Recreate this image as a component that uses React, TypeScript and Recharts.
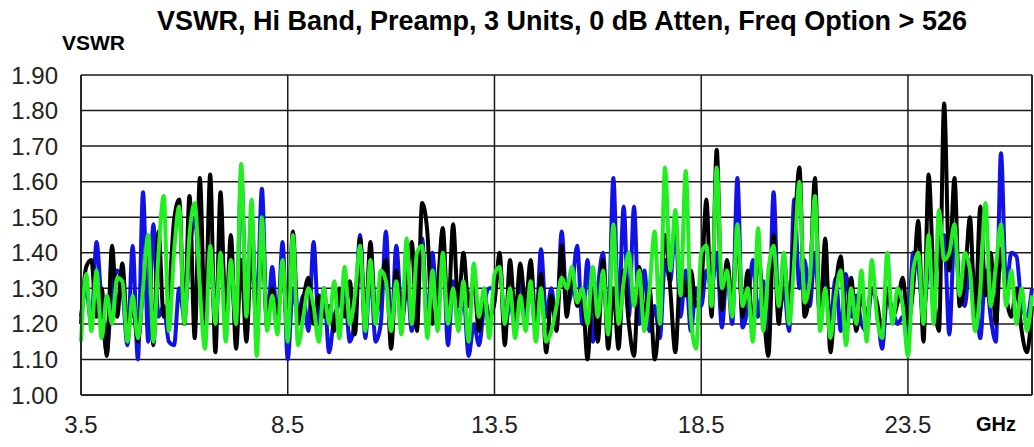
import { CartesianGrid, Line, LineChart, ReferenceLine, XAxis, YAxis } from "recharts";

// frequency grid (GHz), one sample every 0.125 GHz
const F_START = 3.5;
const F_STEP = 0.125;

const X_TICKS = [3.5, 8.5, 13.5, 18.5, 23.5];
const Y_TICKS = [1.0, 1.1, 1.2, 1.3, 1.4, 1.5, 1.6, 1.7, 1.8, 1.9];

// VSWR traces, one per unit
const BLUE = [
  1.22, 1.30, 1.20, 1.43, 1.25, 1.12, 1.30, 1.35,
  1.30, 1.14, 1.42, 1.10, 1.57, 1.15, 1.48, 1.22,
  1.25, 1.15, 1.14, 1.30, 1.22, 1.40, 1.50, 1.34,
  1.30, 1.40, 1.20, 1.46, 1.25, 1.36, 1.18, 1.62,
  1.25, 1.50, 1.22, 1.58, 1.19, 1.36, 1.20, 1.43,
  1.10, 1.30, 1.22, 1.28, 1.18, 1.43, 1.20, 1.30,
  1.12, 1.22, 1.26, 1.30, 1.15, 1.22, 1.45, 1.16,
  1.35, 1.15, 1.20, 1.46, 1.16, 1.42, 1.24, 1.35,
  1.18, 1.30, 1.44, 1.20, 1.40, 1.22, 1.42, 1.14,
  1.32, 1.20, 1.28, 1.11, 1.20, 1.14, 1.25, 1.30,
  1.30, 1.38, 1.18, 1.26, 1.20, 1.33, 1.22, 1.30,
  1.18, 1.41, 1.22, 1.30, 1.20, 1.46, 1.25, 1.30,
  1.42, 1.20, 1.38, 1.15, 1.30, 1.40, 1.18, 1.61,
  1.22, 1.53, 1.22, 1.53, 1.20, 1.35, 1.18, 1.25,
  1.16, 1.38, 1.32, 1.48, 1.22, 1.35, 1.18, 1.30,
  1.25, 1.35, 1.30, 1.40, 1.19, 1.35, 1.20, 1.61,
  1.19, 1.25, 1.38, 1.22, 1.32, 1.15, 1.57, 1.22,
  1.30, 1.18, 1.55, 1.30, 1.38, 1.25, 1.40, 1.22,
  1.36, 1.20, 1.33, 1.18, 1.34, 1.22, 1.28, 1.20,
  1.18, 1.30, 1.25, 1.13, 1.28, 1.24, 1.20, 1.22,
  1.18, 1.40, 1.36, 1.22, 1.36, 1.32, 1.40, 1.45,
  1.17, 1.45, 1.30, 1.25, 1.38, 1.30, 1.16, 1.35,
  1.22, 1.15, 1.68, 1.30, 1.40, 1.39, 1.25, 1.22,
  1.30,
];

const BLACK = [
  1.20, 1.36, 1.38, 1.22, 1.30, 1.11, 1.42, 1.22,
  1.37, 1.18, 1.25, 1.15, 1.30, 1.43, 1.14, 1.46,
  1.22, 1.28, 1.49, 1.55, 1.20, 1.56, 1.16, 1.61,
  1.20, 1.62, 1.12, 1.57, 1.20, 1.45, 1.13, 1.38,
  1.15, 1.42, 1.18, 1.45, 1.20, 1.30, 1.22, 1.35,
  1.18, 1.46, 1.20, 1.27, 1.33, 1.20, 1.28, 1.22,
  1.25, 1.18, 1.30, 1.22, 1.32, 1.17, 1.44, 1.20,
  1.43, 1.22, 1.30, 1.38, 1.13, 1.35, 1.20, 1.32,
  1.43, 1.18, 1.54, 1.46, 1.20, 1.30, 1.47, 1.22,
  1.48, 1.25, 1.40, 1.25, 1.32, 1.18, 1.28, 1.22,
  1.26, 1.40, 1.14, 1.38, 1.22, 1.37, 1.25, 1.38,
  1.20, 1.34, 1.12, 1.28, 1.18, 1.42, 1.22, 1.35,
  1.25, 1.28, 1.10, 1.30, 1.15, 1.38, 1.13, 1.30,
  1.13, 1.35, 1.20, 1.11, 1.36, 1.22, 1.30, 1.10,
  1.25, 1.45, 1.30, 1.12, 1.35, 1.28, 1.35, 1.25,
  1.30, 1.55, 1.22, 1.69, 1.24, 1.38, 1.26, 1.45,
  1.22, 1.35, 1.18, 1.40, 1.25, 1.11, 1.45, 1.20,
  1.38, 1.25, 1.45, 1.64, 1.22, 1.30, 1.61, 1.20,
  1.44, 1.12, 1.30, 1.39, 1.20, 1.33, 1.18, 1.28,
  1.22, 1.30, 1.26, 1.18, 1.30, 1.22, 1.26, 1.33,
  1.20, 1.30, 1.49, 1.15, 1.62, 1.30, 1.18, 1.82,
  1.35, 1.61, 1.25, 1.32, 1.50, 1.22, 1.53, 1.28,
  1.40, 1.20, 1.41, 1.28, 1.22, 1.30, 1.18, 1.12,
  1.25,
];

const GREEN = [
  1.15, 1.34, 1.18, 1.35, 1.16, 1.28, 1.20, 1.33,
  1.32, 1.15, 1.28, 1.16, 1.30, 1.45, 1.15, 1.40,
  1.56, 1.18, 1.40, 1.53, 1.20, 1.45, 1.54, 1.30,
  1.13, 1.42, 1.20, 1.40, 1.15, 1.38, 1.20, 1.65,
  1.22, 1.55, 1.11, 1.50, 1.18, 1.28, 1.17, 1.38,
  1.15, 1.45, 1.14, 1.22, 1.30, 1.25, 1.15, 1.30,
  1.20, 1.32, 1.16, 1.36, 1.20, 1.28, 1.42, 1.18,
  1.38, 1.20, 1.35, 1.32, 1.18, 1.32, 1.17, 1.44,
  1.20, 1.40, 1.42, 1.16, 1.35, 1.18, 1.40, 1.20,
  1.30, 1.18, 1.32, 1.15, 1.37, 1.22, 1.30, 1.16,
  1.34, 1.36, 1.20, 1.30, 1.16, 1.28, 1.18, 1.32,
  1.15, 1.30, 1.15, 1.18, 1.25, 1.33, 1.30, 1.36,
  1.26, 1.30, 1.20, 1.36, 1.22, 1.35, 1.17, 1.48,
  1.20, 1.32, 1.40, 1.25, 1.35, 1.18, 1.30, 1.46,
  1.20, 1.64, 1.35, 1.52, 1.28, 1.63, 1.22, 1.13,
  1.40, 1.42, 1.25, 1.64, 1.30, 1.35, 1.22, 1.48,
  1.25, 1.30, 1.15, 1.47, 1.18, 1.35, 1.42, 1.25,
  1.40, 1.20, 1.38, 1.60, 1.26, 1.32, 1.56, 1.18,
  1.30, 1.16, 1.28, 1.35, 1.14, 1.30, 1.20, 1.35,
  1.15, 1.38, 1.22, 1.16, 1.40, 1.20, 1.30, 1.25,
  1.11, 1.35, 1.40, 1.20, 1.45, 1.20, 1.52, 1.38,
  1.40, 1.48, 1.28, 1.40, 1.35, 1.18, 1.30, 1.54,
  1.25, 1.36, 1.48, 1.25, 1.35, 1.20, 1.30, 1.18,
  1.28,
];

const rows = BLUE.map((b, i) => ({
  f: F_START + i * F_STEP,
  blue: b,
  black: BLACK[i],
  green: GREEN[i],
}));

const FONT = "'Liberation Sans', Arial, sans-serif";

export default function App() {
  return (
    <div
      style={{
        position: "absolute",
        left: 0,
        top: 0,
        width: 1034,
        height: 447,
        background: "#fff",
        fontFamily: FONT,
        overflow: "hidden",
      }}
    >
      <div
        style={{
          position: "absolute",
          left: 0,
          width: 1124,
          top: 8,
          textAlign: "center",
          fontSize: 27,
          lineHeight: "27px",
          fontWeight: 700,
          whiteSpace: "nowrap",
          color: "#000",
        }}
      >
        VSWR, Hi Band, Preamp, 3 Units, 0 dB Atten, Freq Option &gt; 526
      </div>
      <div
        style={{
          position: "absolute",
          left: 62,
          top: 32,
          fontSize: 21,
          lineHeight: "21px",
          fontWeight: 700,
          color: "#000",
        }}
      >
        VSWR
      </div>
      <div
        style={{
          position: "absolute",
          left: 976,
          top: 414,
          fontSize: 20,
          lineHeight: "20px",
          fontWeight: 700,
          color: "#000",
        }}
      >
        GHz
      </div>

      <LineChart
        width={1034}
        height={447}
        data={rows}
        margin={{ top: 75, right: 2, left: 0, bottom: 0 }}
        style={{ position: "absolute", left: 0, top: 0 }}
      >
        <CartesianGrid stroke="#1a1a1a" strokeWidth={1.5} />
        <XAxis
          dataKey="f"
          type="number"
          domain={[3.5, 26.5]}
          ticks={X_TICKS}
          tickFormatter={(v: number) => v.toFixed(1)}
          height={52}
          tickLine={false}
          tickSize={19}
          tickMargin={2}
          axisLine={{ stroke: "#1a1a1a", strokeWidth: 1.5 }}
          tick={{ fill: "#222", fontSize: 24, fontFamily: FONT }}
        />
        <YAxis
          type="number"
          domain={[1.0, 1.9]}
          ticks={Y_TICKS}
          tickFormatter={(v: number) => v.toFixed(2)}
          width={81}
          tickLine={false}
          tickSize={21}
          tickMargin={2}
          axisLine={{ stroke: "#1a1a1a", strokeWidth: 1.5 }}
          tick={{ fill: "#222", fontSize: 24, fontFamily: FONT }}
        />
        <ReferenceLine x={26.5} stroke="#1a1a1a" strokeWidth={1.5} />
        <Line
          type="monotone"
          dataKey="blue"
          stroke="#1212e6"
          strokeWidth={4}
          dot={false}
          isAnimationActive={false}
        />
        <Line
          type="monotone"
          dataKey="black"
          stroke="#000"
          strokeWidth={4}
          dot={false}
          isAnimationActive={false}
        />
        <Line
          type="monotone"
          dataKey="green"
          stroke="#22ee22"
          strokeWidth={4}
          dot={false}
          isAnimationActive={false}
        />
      </LineChart>
    </div>
  );
}
